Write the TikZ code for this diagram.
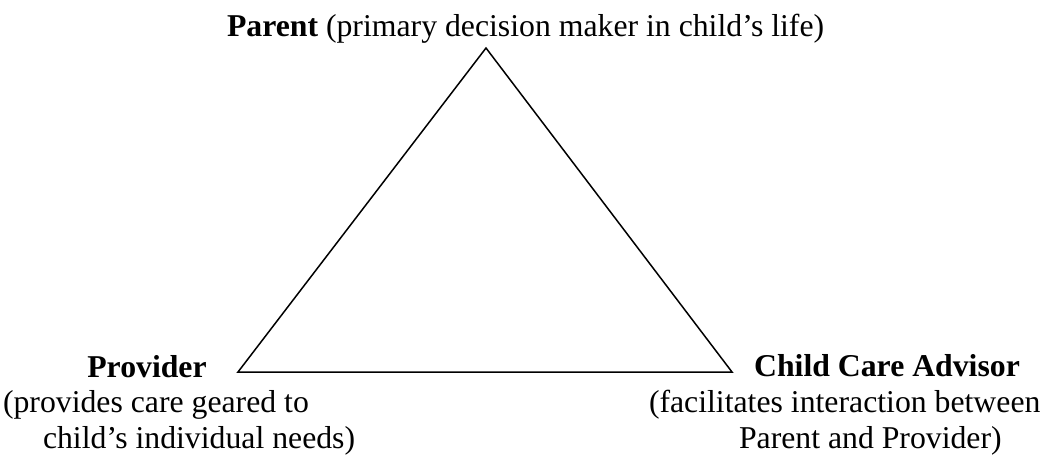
\documentclass[tikz,border=0pt]{standalone}
\usepackage{fontspec}
\setmainfont{Liberation Serif}
\usepackage{tikz}

\begin{document}
\begin{tikzpicture}[x=0.4pt, y=-0.4pt,
	every node/.style={inner sep=0pt, outer sep=0pt, font=\fontsize{12.7}{14.2}\selectfont},
	role/.style={anchor=base, font=\fontsize{12.7}{14.2}\selectfont\bfseries},
	remark/.style={anchor=base west, align=left}]
	\useasboundingbox (0,0) rectangle (1049,455);
	
	\coordinate (parent) at (486,48);
	\coordinate (provider) at (238,372);
	\coordinate (advisor) at (732,372);
	\draw[line width=0.6pt] (parent) -- (provider) -- (advisor) -- cycle;
	
	% labels, last line of each remark sits on its base
	\node[anchor=base west] (parentlbl) at (227,36) {\textbf{Parent} (primary decision maker in child's life)};
	
	\node[role] (providerlbl) at (147,377) {Provider};
	\node[remark] (providertxt) at (3,448) {(provides care geared to\\\hspace*{16pt}child's individual needs)};
	
	\node[role] (advisorlbl) at (887,376) {Child Care Advisor};
	\node[remark] (advisortxt) at (649,448) {(facilitates interaction between\\\hspace*{36pt}Parent and Provider)};
\end{tikzpicture}
\end{document}
